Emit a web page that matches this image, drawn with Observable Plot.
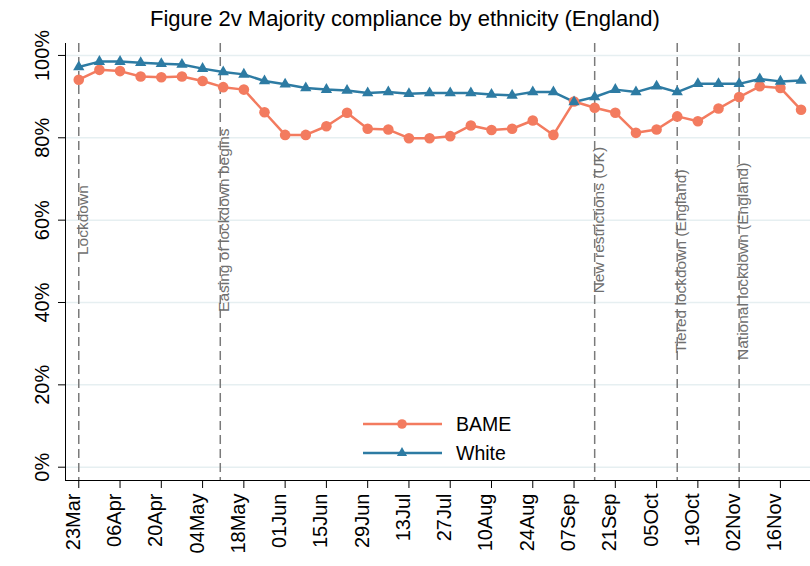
<!DOCTYPE html>
<html><head><meta charset="utf-8">
<script src="https://cdn.jsdelivr.net/npm/d3@7"></script>
<script src="https://cdn.jsdelivr.net/npm/@observablehq/plot@0.6"></script>
<style>
body{margin:0;background:#fff;font-family:"Liberation Sans",Arial,sans-serif;}
#wrap{position:relative;width:810px;height:566px;overflow:hidden;}
#title{position:absolute;left:0;top:6px;width:810px;text-align:center;font-size:22px;line-height:26px;color:#000;}
#legend{position:absolute;left:358px;top:410px;}
#chart svg{overflow:visible}
</style></head>
<body><div id="wrap"><div id="chart"></div><div id="title">Figure 2v Majority compliance by ethnicity (England)</div><div id="legend"></div></div>
<script>
// ---- data ----
const weeks = ["2020-03-23","2020-03-30","2020-04-06","2020-04-13","2020-04-20","2020-04-27","2020-05-04","2020-05-11","2020-05-18","2020-05-25","2020-06-01","2020-06-08","2020-06-15","2020-06-22","2020-06-29","2020-07-06","2020-07-13","2020-07-20","2020-07-27","2020-08-03","2020-08-10","2020-08-17","2020-08-24","2020-08-31","2020-09-07","2020-09-14","2020-09-21","2020-09-28","2020-10-05","2020-10-12","2020-10-19","2020-10-26","2020-11-02","2020-11-09","2020-11-16","2020-11-23"];
const bame = [94.1,96.5,96.2,94.9,94.7,94.9,93.8,92.3,91.7,86.2,80.7,80.7,82.8,86.1,82.2,82.0,79.9,79.9,80.4,83.0,81.9,82.2,84.2,80.7,88.8,87.3,86.1,81.2,82.0,85.2,84.0,87.1,89.9,92.5,92.1,86.8];
const white = [97.2,98.5,98.5,98.2,98.0,97.8,96.8,96.0,95.4,93.8,93.0,92.1,91.7,91.5,90.9,91.1,90.7,90.9,90.9,90.9,90.5,90.3,91.1,91.1,88.7,89.9,91.7,91.1,92.5,91.1,93.1,93.1,93.1,94.3,93.7,93.9];
const seriesNames = ["BAME","White"];
const seriesColors = ["#f37b5f","#2d7ba3"];
const xTickDates = ["2020-03-23","2020-04-06","2020-04-20","2020-05-04","2020-05-18","2020-06-01","2020-06-15","2020-06-29","2020-07-13","2020-07-27","2020-08-10","2020-08-24","2020-09-07","2020-09-21","2020-10-05","2020-10-19","2020-11-02","2020-11-16"];
const yTicks = [0,20,40,60,80,100];
const eventDates = ["2020-03-23","2020-05-10","2020-09-14","2020-10-12","2020-11-02"];
const eventLabels = ["Lockdown","Easing of lockdown begins","New restrictions (UK)","Tiered lockdown (England)","National lockdown (England)"];
const eventLabelY = [60,60,60,50,50];

// ---- build ----
const parse = d3.utcParse("%Y-%m-%d");
const fmt = d3.utcFormat("%d%b");
const rows = [];
weeks.forEach((w,i)=>{
  rows.push({date:parse(w), v:bame[i], s:seriesNames[0]});
  rows.push({date:parse(w), v:white[i], s:seriesNames[1]});
});
const bameRows = rows.filter(d=>d.s===seriesNames[0]);
const whiteRows = rows.filter(d=>d.s===seriesNames[1]);
const events = eventDates.map((d,i)=>({date:parse(d), label:eventLabels[i], ly:eventLabelY[i]}));
const xTicks = xTickDates.map(parse);
const xDomain = [new Date(Date.UTC(2020,2,18,12)), new Date(Date.UTC(2020,10,26,5))];
const yDomain = [-3.23, 102.9];
const font = "Liberation Sans, Arial, sans-serif";

const chart = Plot.plot({
  width:810, height:566,
  marginTop:43, marginBottom:86, marginLeft:65, marginRight:0,
  style:{fontFamily:font, background:"white", overflow:"visible"},
  x:{type:"utc", domain:xDomain, axis:null},
  y:{domain:yDomain, axis:null},
  marks:[
    Plot.ruleY(yTicks, {stroke:"#e6eff1", strokeWidth:1.5}),
    Plot.ruleX(events, {x:"date", stroke:"#7a7a7a", strokeWidth:1.5, strokeDasharray:"9,5"}),
    Plot.text(events, {x:"date", y:"ly", text:"label", rotate:-90, dx:4, fill:"#6f6f6f", fontSize:15.5, textAnchor:"middle"}),
    Plot.line(bameRows, {x:"date", y:"v", stroke:seriesColors[0], strokeWidth:2.5}),
    Plot.line(whiteRows, {x:"date", y:"v", stroke:seriesColors[1], strokeWidth:2.5}),
    Plot.dot(bameRows, {x:"date", y:"v", r:5.3, fill:seriesColors[0], stroke:null}),
    Plot.dot(whiteRows, {x:"date", y:"v", r:4.2, symbol:"triangle", fill:seriesColors[1], stroke:null}),
    Plot.ruleX([xDomain[0]], {stroke:"#000", strokeWidth:1}),
    Plot.ruleY([yDomain[0]], {stroke:"#000", strokeWidth:1}),
    Plot.axisY({ticks:yTicks, tickSize:7, tickFormat:()=>"", stroke:"#000"}),
    Plot.axisX({ticks:xTicks, tickSize:8, tickFormat:()=>"", stroke:"#000"}),
    Plot.text(yTicks, {y:d=>d, text:d=>d+"%", frameAnchor:"left", rotate:-90, dx:-23, fontSize:20, textAnchor:"middle", fill:"#000"}),
    Plot.text(xTicks, {x:d=>d, text:d=>fmt(d), frameAnchor:"bottom", rotate:-90, dy:13, dx:1, fontSize:20, textAnchor:"end", fill:"#000"})
  ]
});
document.getElementById("chart").appendChild(chart);

// ---- legend ----
const lg = d3.select("#legend").append("svg").attr("width",180).attr("height",60).style("font-family",font);
seriesNames.forEach((name,i)=>{
  const g = lg.append("g").attr("transform",`translate(0,${14+i*29})`);
  g.append("line").attr("x1",5).attr("x2",84).attr("y1",0).attr("y2",0).attr("stroke",seriesColors[i]).attr("stroke-width",2.5);
  if(i===0) g.append("circle").attr("cx",44).attr("cy",0).attr("r",4.8).attr("fill",seriesColors[i]);
  else g.append("path").attr("d",d3.symbol(d3.symbolTriangle, 45)()).attr("transform","translate(44,0)").attr("fill",seriesColors[i]);
  g.append("text").attr("x",98).attr("y",0).attr("dy","0.35em").attr("font-size",19.5).attr("fill","#000").text(name);
});
</script>
</body></html>
